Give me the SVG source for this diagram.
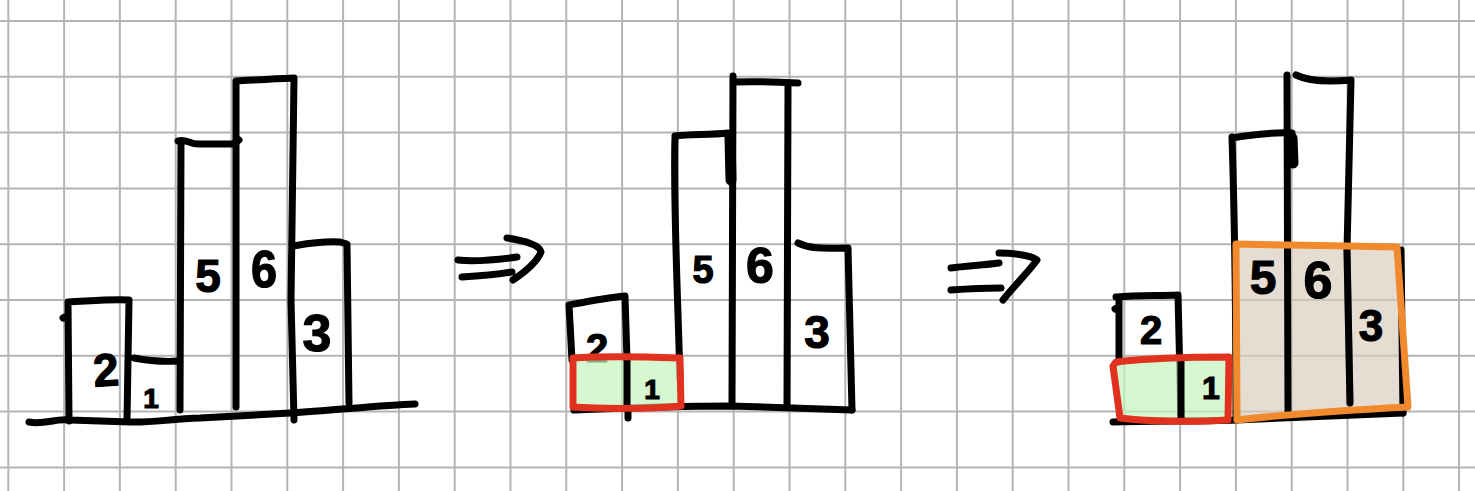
<svg xmlns="http://www.w3.org/2000/svg" width="1475" height="491" viewBox="0 0 1475 491">
<style>
.grid{fill:none;stroke:#b4b4b4;stroke-width:2}
.ink{fill:none;stroke:#000;stroke-width:7;stroke-linecap:round;stroke-linejoin:round}
.thick{fill:none;stroke:#000;stroke-width:11;stroke-linecap:round}
.d{font-family:"Liberation Sans",Arial,sans-serif;font-weight:bold;text-anchor:middle;fill:#000;stroke:#000;stroke-width:1.2}
.green{fill:#c4f5bc;fill-opacity:0.7;stroke:none}
.beige{fill:#d9cbbd;fill-opacity:0.68;stroke:none}
.red{fill:none;stroke:#e0321f;stroke-width:7;stroke-linejoin:round;stroke-linecap:round}
.orange{fill:none;stroke:#f08a2c;stroke-width:7;stroke-linejoin:round;stroke-linecap:round}
</style>
<rect width="1475" height="491" fill="#fff"/>
<path class="grid" d="M8.3,0V491M64.1,0V491M119.9,0V491M175.7,0V491M231.5,0V491M287.3,0V491M343.1,0V491M398.9,0V491M454.7,0V491M510.5,0V491M566.3,0V491M622.1,0V491M677.9,0V491M733.7,0V491M789.5,0V491M845.3,0V491M901.1,0V491M956.9,0V491M1012.7,0V491M1068.5,0V491M1124.3,0V491M1180.1,0V491M1235.9,0V491M1291.7,0V491M1347.5,0V491M1403.3,0V491M1459.1,0V491M0,21H1475M0,76.8H1475M0,132.6H1475M0,188.4H1475M0,244.2H1475M0,300H1475M0,355.8H1475M0,411.6H1475M0,467.4H1475"/>

<g id="panel1">
  <g id="p1-ground"><path class="ink" d="M29,422 C45,425 55,418 70,420 L130,422 C150,423 170,419 200,418 L290,413 C330,411 380,405 415,404"/></g>
  <g id="p1-bar2">
    <path class="ink" d="M63,318 L67,316 M68,302 L69,421 M68,302 C90,301 110,299 129,300 L127,420"/>
    <text class="d" x="106" y="386" font-size="46" transform="rotate(-4 106 370)">2</text>
  </g>
  <g id="p1-bar1">
    <path class="ink" d="M134,358 C150,361 165,362 179,361"/>
    <text class="d" x="151" y="408" font-size="28">1</text>
  </g>
  <g id="p1-bar5">
    <path class="ink" d="M181,143 L180,410 M178,141 C186,138 190,145 200,144 L232,144 C236,143 238,141 239,140"/>
    <text class="d" x="208" y="292" font-size="46">5</text>
  </g>
  <g id="p1-bar6">
    <path class="ink" d="M236,81 L236,407 M236,81 C255,80 270,79 294,78 L291,300 L294,420"/>
    <text class="d" x="264" y="287" font-size="52" transform="scale(0.9 1) translate(29.3 0)">6</text>
  </g>
  <g id="p1-bar3">
    <path class="ink" d="M293,246 C305,244 320,241 340,242 L347,244 L349,403"/>
    <text class="d" x="317" y="351" font-size="52">3</text>
  </g>
</g>

<g id="arrow1">
  <path class="ink" d="M458,260 C475,262 495,260 517,257 M462,277 C480,276 500,274 512,272 M507,238 C525,241 540,245 541,252 C537,262 525,272 513,280"/>
</g>

<g id="panel2">
  <g id="p2-bar2">
    <path class="ink" d="M569,305 L572,360 M569,305 C590,301 605,298 625,296 L627,360"/>
    <text class="d" x="597" y="362" font-size="40">2</text>
  </g>
  <g id="p2-bar5">
    <path class="ink" d="M675,137 C673,200 678,300 680,380 M675,136 C690,134 710,135 728,133"/>
    <path class="thick" d="M730,137 L731,180"/>
    <text class="d" x="703" y="283" font-size="38">5</text>
  </g>
  <g id="p2-bar6">
    <path class="ink" d="M733,76 L732,404 M734,82 C760,81 780,82 798,83 M788,87 L787,404"/>
    <text class="d" x="760" y="283" font-size="50">6</text>
  </g>
  <g id="p2-bar3">
    <path class="ink" d="M798,243 C812,250 830,248 848,248 L852,410"/>
    <text class="d" x="817" y="348" font-size="46">3</text>
  </g>
  <g id="p2-ground"><path class="ink" d="M574,410 C650,407 700,406 730,406 L852,410"/></g>
  <g id="p2-box">
    <path class="green" d="M573,358 C600,356 650,357 680,358 L681,406 C650,409 600,409 573,407 Z"/>
    <path class="ink" d="M627,358 L627,409 M628,411 L628,418"/>
    <text class="d" x="652" y="399" font-size="28">1</text>
    <path class="red" d="M573,358 C600,356 650,357 680,358 L681,406 C650,409 600,409 573,407 Z"/>
  </g>
</g>

<g id="arrow2">
  <path class="ink" d="M951,268 C965,266 985,265 999,263 M951,290 C965,289 985,288 1001,288 M999,253 C1015,253 1033,256 1037,260 C1030,270 1015,285 1003,300"/>
</g>

<g id="panel3">
  <g id="p3-bar2">
    <path class="ink" d="M1115,309 L1119,307 M1119,297 L1119,362 M1116,297 C1140,295 1160,296 1178,295 L1181,420"/>
    <text class="d" x="1151" y="344" font-size="40">2</text>
  </g>
  <g id="p3-bar5">
    <path class="ink" d="M1232,137 C1234,200 1236,300 1236,420 M1232,138 C1250,135 1270,132 1292,133"/>
    <path class="thick" d="M1292,138 L1293,163"/>
  </g>
  <g id="p3-bar6">
    <path class="ink" d="M1296,75 C1310,82 1330,82 1351,80 L1347,250 L1350,403"/>
  </g>
  <g id="p3-ground"><path class="ink" d="M1113,422 C1150,421 1200,421 1236,420 L1403,413"/></g>
  <g id="p3-orange">
    <path class="beige" d="M1236,244 C1280,245 1350,246 1397,247 L1408,407 C1350,410 1280,415 1237,420 Z"/>
    <path class="ink" d="M1287,75 L1288,412 M1347,250 L1350,403 M1401,250 L1403,413"/>
    <text class="d" x="1263" y="294" font-size="48">5</text>
    <text class="d" x="1318" y="298" font-size="52">6</text>
    <text class="d" x="1371" y="341" font-size="44">3</text>
    <path class="orange" d="M1236,244 C1280,245 1350,246 1397,247 L1408,407 C1350,410 1280,415 1237,420 Z"/>
  </g>
  <g id="p3-box">
    <path class="green" d="M1115,362 C1150,358 1200,357 1229,357 L1228,420 C1200,422 1150,422 1120,418 Z"/>
    <path class="ink" d="M1181,362 L1181,420"/>
    <text class="d" x="1211" y="399" font-size="32">1</text>
    <path class="red" d="M1113,366 L1116,362 C1150,358 1200,357 1229,357 L1228,420 C1200,422 1150,422 1120,418 Z"/>
  </g>
</g>
</svg>
